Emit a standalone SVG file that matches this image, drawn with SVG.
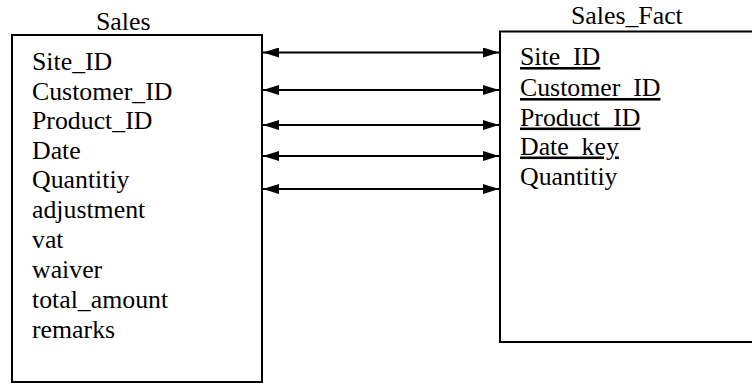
<svg xmlns="http://www.w3.org/2000/svg" width="752" height="383" viewBox="0 0 752 383">
  <style>
    .box { fill: #fff; stroke: #000; stroke-width: 2; }
    .t { font-family: "Liberation Serif", "Times New Roman", serif; font-size: 25.8px; fill: #000; }
    .key { text-decoration: underline; }
    .link { stroke: #000; stroke-width: 1.8; fill: none; marker-start: url(#head); marker-end: url(#head); }
  </style>
  <defs>
    <marker id="head" viewBox="0 0 16 10" refX="16" refY="5" markerWidth="16" markerHeight="10" markerUnits="userSpaceOnUse" orient="auto-start-reverse">
      <path d="M0,0 L16,5 L0,10 Z" fill="#000"/>
    </marker>
  </defs>

  <!-- Sales table -->
  <g id="sales">
    <text class="t" x="96" y="30">Sales</text>
    <rect class="box" x="12" y="35" width="250" height="347"/>
    <text class="t" x="32" y="70">Site_ID</text>
    <text class="t" x="32" y="99.5">Customer_ID</text>
    <text class="t" x="32" y="129">Product_ID</text>
    <text class="t" x="32" y="158.5">Date</text>
    <text class="t" x="32" y="188">Quantitiy</text>
    <text class="t" x="32" y="218">adjustment</text>
    <text class="t" x="32" y="248">vat</text>
    <text class="t" x="32" y="278">waiver</text>
    <text class="t" x="32" y="308">total_amount</text>
    <text class="t" x="32" y="337.5">remarks</text>
  </g>

  <!-- Sales_Fact table (right border runs past the canvas) -->
  <g id="sales_fact">
    <text class="t" x="571" y="24">Sales_Fact</text>
    <rect class="box" x="500" y="31.5" width="260" height="310.5"/>
    <text class="t key" x="520" y="65">Site_ID</text>
    <text class="t key" x="520" y="96">Customer_ID</text>
    <text class="t key" x="520" y="125.5">Product_ID</text>
    <text class="t key" x="520" y="154.5">Date_key</text>
    <text class="t" x="520" y="185">Quantitiy</text>
  </g>

  <!-- Field mappings -->
  <g id="connectors">
    <line class="link" x1="263" y1="52.5" x2="499" y2="52.5"/>
    <line class="link" x1="263" y1="90" x2="499" y2="90"/>
    <line class="link" x1="263" y1="125" x2="499" y2="125"/>
    <line class="link" x1="263" y1="156" x2="499" y2="156"/>
    <line class="link" x1="263" y1="189" x2="499" y2="189"/>
  </g>
</svg>
